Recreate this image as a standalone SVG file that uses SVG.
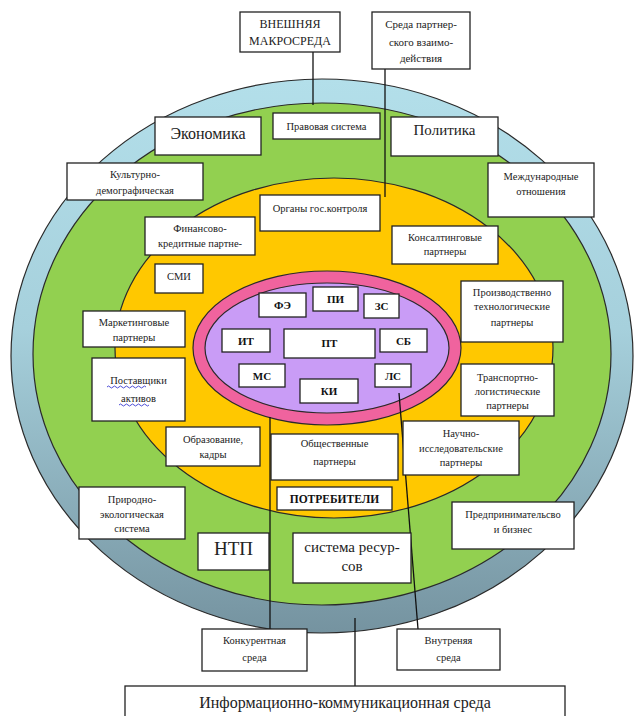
<svg xmlns="http://www.w3.org/2000/svg" width="635" height="716" viewBox="0 0 635 716">
<defs>
<linearGradient id="ringGrad" x1="0" y1="0" x2="0" y2="1">
<stop offset="0" stop-color="#b3dfea"/>
<stop offset="0.45" stop-color="#a6d0dc"/>
<stop offset="1" stop-color="#7593a0"/>
</linearGradient>
<style>
.box{fill:#fff;stroke:#222;stroke-width:1.3}
.t{font-family:"Liberation Serif","Times New Roman",serif;font-size:10.5px;fill:#222;text-anchor:middle}
.b{font-family:"Liberation Serif","Times New Roman",serif;font-size:11px;font-weight:bold;fill:#111;text-anchor:middle}
.ell{stroke:#2a2a2a;stroke-width:1.2}
.con{stroke:#111;stroke-width:1.3;fill:none}
</style>
</defs>
<rect width="635" height="716" fill="#fff"/>
<g id="rings">
<ellipse class="ell" cx="322" cy="356" rx="311" ry="277" fill="url(#ringGrad)"/>
<ellipse class="ell" cx="322" cy="354" rx="289" ry="251" fill="#92d050"/>
<ellipse class="ell" cx="334" cy="348" rx="219" ry="170" fill="#ffc800"/>
<ellipse class="ell" cx="327" cy="348" rx="134" ry="77" fill="#f0639e"/>
<ellipse class="ell" cx="327" cy="348" rx="122" ry="65" fill="#c99cf6"/>
</g>
<g id="connectors">
<line class="con" x1="313" y1="52" x2="313" y2="105"/>
<line class="con" x1="385" y1="69" x2="385" y2="197"/>
<line class="con" x1="270" y1="417" x2="270" y2="629"/>
<line class="con" x1="399" y1="393" x2="418" y2="629"/>
<line class="con" x1="355" y1="686" x2="355" y2="618"/>
</g>
<g id="vneshn"><rect class="box" x="240" y="12" width="100" height="40"/><text class="t" style="font-size:12px" x="290" y="28">ВНЕШНЯЯ</text><text class="t" style="font-size:12px" x="290" y="45">МАКРОСРЕДА</text></g>
<g id="sreda"><rect class="box" x="372" y="12" width="98" height="57"/><text class="t" style="font-size:11px" x="421" y="28">Среда партнер-</text><text class="t" style="font-size:11px" x="421" y="46">ского взаимо-</text><text class="t" style="font-size:11px" x="421" y="62">действия</text></g>
<g id="pravo"><rect class="box" x="273" y="113" width="107" height="26"/><text class="t" x="326.5" y="130">Правовая система</text></g>
<g id="econ"><rect class="box" x="155" y="117" width="106" height="38"/><text class="t" style="font-size:16px" x="208" y="139">Экономика</text></g>
<g id="polit"><rect class="box" x="391" y="117" width="107" height="39"/><text class="t" style="font-size:15px" x="444.5" y="135">Политика</text></g>
<g id="kult"><rect class="box" x="67" y="163" width="136" height="37"/><text class="t" x="135" y="178">Культурно-</text><text class="t" x="135" y="194">демографическая</text></g>
<g id="mezhd"><rect class="box" x="488" y="163" width="106" height="54"/><text class="t" x="541" y="180">Международные</text><text class="t" x="541" y="195">отношения</text></g>
<g id="organy"><rect class="box" x="260" y="195" width="120" height="36"/><text class="t" x="320" y="212">Органы гос.контроля</text></g>
<g id="finans"><rect class="box" x="145" y="217" width="110" height="38"/><text class="t" x="200" y="232">Финансово-</text><text class="t" x="200" y="247">кредитные партне-</text></g>
<g id="konsalt"><rect class="box" x="392" y="226" width="106" height="38"/><text class="t" x="445" y="241">Консалтинговые</text><text class="t" x="445" y="255">партнеры</text></g>
<g id="smi"><rect class="box" x="155" y="264" width="48" height="29"/><text class="t" x="179" y="280">СМИ</text></g>
<g id="proizv"><rect class="box" x="461" y="281" width="102" height="61"/><text class="t" x="512" y="296">Производственно</text><text class="t" x="512" y="310">технологические</text><text class="t" x="512" y="326">партнеры</text></g>
<g id="market"><rect class="box" x="83" y="311" width="102" height="36"/><text class="t" x="134" y="326">Маркетинговые</text><text class="t" x="134" y="341">партнеры</text></g>
<g id="postav"><rect class="box" x="92" y="358" width="93" height="63"/><text class="t" x="138.5" y="384">Поставщики</text><text class="t" x="138.5" y="402">активов</text><path d="M107 387 q1.5 -2 3 0 t3 0 t3 0 t3 0 t3 0 t3 0 t3 0 t3 0 t3 0 t3 0 t3 0 t3 0 t3 0" fill="none" stroke="#3a3ad0" stroke-width="0.9"/><path d="M119 405 q1.5 -2 3 0 t3 0 t3 0 t3 0 t3 0 t3 0 t3 0 t3 0 t3 0 t3 0" fill="none" stroke="#3a3ad0" stroke-width="0.9"/></g>
<g id="transp"><rect class="box" x="461" y="364" width="93" height="52"/><text class="t" x="507.5" y="381">Транспортно-</text><text class="t" x="507.5" y="395">логистические</text><text class="t" x="507.5" y="409">партнеры</text></g>
<g id="obraz"><rect class="box" x="166" y="427" width="94" height="39"/><text class="t" x="213" y="443">Образование,</text><text class="t" x="213" y="458">кадры</text></g>
<g id="obshch"><rect class="box" x="271" y="434" width="127" height="46"/><text class="t" x="334.5" y="447">Общественные</text><text class="t" x="334.5" y="465">партнеры</text></g>
<g id="nauch"><rect class="box" x="403" y="421" width="116" height="54"/><text class="t" x="461" y="437">Научно-</text><text class="t" x="461" y="452">исследовательские</text><text class="t" x="461" y="466">партнеры</text></g>
<g id="potreb"><rect class="box" x="277" y="487" width="115" height="23"/><text class="b" style="font-size:11.5px" x="334.5" y="503">ПОТРЕБИТЕЛИ</text></g>
<g id="prirod"><rect class="box" x="79" y="487" width="106" height="52"/><text class="t" x="132" y="503">Природно-</text><text class="t" x="132" y="518">экологическая</text><text class="t" x="132" y="532">система</text></g>
<g id="predpr"><rect class="box" x="452" y="502" width="122" height="47"/><text class="t" x="513" y="518">Предпринимательсво</text><text class="t" x="513" y="533">и бизнес</text></g>
<g id="ntp"><rect class="box" x="198" y="533" width="71" height="37"/><text class="t" style="font-size:19px" x="233.5" y="555">НТП</text></g>
<g id="sistema"><rect class="box" x="293" y="533" width="118" height="50"/><text class="t" style="font-size:15px" x="352" y="552">система ресур-</text><text class="t" style="font-size:15px" x="352" y="571">сов</text></g>
<g id="konk"><rect class="box" x="202" y="629" width="105" height="42"/><text class="t" x="254.5" y="644">Конкурентная</text><text class="t" x="254.5" y="661">среда</text></g>
<g id="vnutr"><rect class="box" x="397" y="629" width="103" height="41"/><text class="t" x="448.5" y="644">Внутреняя</text><text class="t" x="448.5" y="661">среда</text></g>
<g id="inform"><rect class="box" x="125" y="686" width="440" height="40"/><text class="t" style="font-size:16px" x="345" y="708">Информационно-коммуникационная среда</text></g>
<g id="fe"><rect class="box" x="259" y="293" width="47" height="24"/><text class="b" x="282.5" y="309">ФЭ</text></g>
<g id="pi"><rect class="box" x="313" y="287" width="45" height="24"/><text class="b" x="335.5" y="303">ПИ</text></g>
<g id="zs"><rect class="box" x="364" y="294" width="35" height="24"/><text class="b" x="381.5" y="310">ЗС</text></g>
<g id="it"><rect class="box" x="222" y="329" width="48" height="23"/><text class="b" x="246" y="345">ИТ</text></g>
<g id="pt"><rect class="box" x="284" y="329" width="91" height="29"/><text class="b" x="329.5" y="347">ПТ</text></g>
<g id="sb"><rect class="box" x="380" y="329" width="47" height="23"/><text class="b" x="403.5" y="345">СБ</text></g>
<g id="ms"><rect class="box" x="239" y="364" width="46" height="23"/><text class="b" x="262" y="380">МС</text></g>
<g id="ki"><rect class="box" x="300" y="379" width="58" height="24"/><text class="b" x="329" y="395">КИ</text></g>
<g id="ls"><rect class="box" x="375" y="364" width="36" height="23"/><text class="b" x="393" y="380">ЛС</text></g>
</svg>
